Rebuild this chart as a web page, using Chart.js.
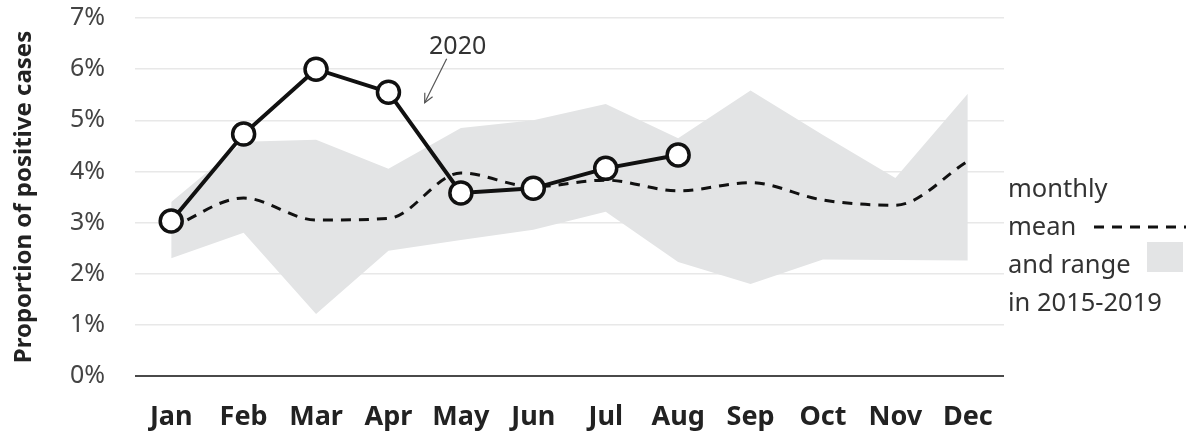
<!DOCTYPE html>
<html>
<head>
<meta charset="utf-8">
<script src="https://cdn.jsdelivr.net/npm/chart.js@4.4.0/dist/chart.umd.min.js"></script>
<style>
  html, body { margin: 0; padding: 0; background: #ffffff; }
  #wrap { width: 1187px; height: 434px; position: relative; }
</style>
</head>
<body>
<div id="wrap"><canvas id="c" width="1187" height="434"></canvas></div>
<script>
const months = ['Jan','Feb','Mar','Apr','May','Jun','Jul','Aug','Sep','Oct','Nov','Dec'];
const values2020 = [3.03, 4.73, 6.0, 5.55, 3.58, 3.67, 4.06, 4.32, null, null, null, null];
const meanValues = [2.9, 3.48, 3.05, 3.08, 3.97, 3.7, 3.83, 3.62, 3.78, 3.44, 3.34, 4.2];
const rangeMax = [3.4, 4.58, 4.62, 4.05, 4.85, 5.0, 5.32, 4.65, 5.58, 4.71, 3.87, 5.52];
const rangeMin = [2.3, 2.8, 1.21, 2.45, 2.66, 2.86, 3.21, 2.23, 1.8, 2.28, 2.27, 2.26];
const yTicks = [0, 1, 2, 3, 4, 5, 6, 7];
const legendLines = ['monthly', 'mean', 'and range', 'in 2015-2019'];
const annotationText = '2020';

const FONT = '"Noto Sans", "Open Sans", sans-serif';
const BAND = '#e3e4e5';

const extras = {
  id: 'extras',
  afterDraw(chart) {
    const ctx = chart.ctx;
    const x = chart.scales.x, y = chart.scales.y;
    ctx.save();
    // annotation
    ctx.fillStyle = '#333';
    ctx.font = '25px ' + FONT;
    ctx.textAlign = 'center';
    ctx.textBaseline = 'alphabetic';
    const ax = (x.getPixelForValue(3) + x.getPixelForValue(4)) / 2 + 33;
    const ay = y.getPixelForValue(6.3);
    ctx.fillText(annotationText, ax, ay);
    // arrow
    const x1 = ax - 11, y1 = ay + 5, x2 = ax - 33, y2 = ay + 49;
    ctx.strokeStyle = '#555';
    ctx.lineWidth = 1.2;
    ctx.beginPath(); ctx.moveTo(x1, y1); ctx.lineTo(x2, y2); ctx.stroke();
    const ang = Math.atan2(y2 - y1, x2 - x1);
    const hl = 10;
    ctx.beginPath();
    ctx.moveTo(x2 - hl * Math.cos(ang - 0.45), y2 - hl * Math.sin(ang - 0.45));
    ctx.lineTo(x2, y2);
    ctx.lineTo(x2 - hl * Math.cos(ang + 0.45), y2 - hl * Math.sin(ang + 0.45));
    ctx.stroke();
    // legend
    const lx = chart.chartArea.right + 4;
    ctx.textAlign = 'left';
    ctx.fillStyle = '#333';
    ctx.font = '25.5px ' + FONT;
    const base = [197, 235, 273, 311];
    legendLines.forEach((t, i) => ctx.fillText(t, lx, base[i]));
    // dashed sample
    ctx.strokeStyle = '#111';
    ctx.lineWidth = 3;
    ctx.setLineDash([10, 8]);
    ctx.beginPath(); ctx.moveTo(1094, 227); ctx.lineTo(1186, 227); ctx.stroke();
    ctx.setLineDash([]);
    // band sample
    ctx.fillStyle = BAND;
    ctx.fillRect(1147, 242, 36, 30);
    ctx.restore();
  }
};

new Chart(document.getElementById('c'), {
  type: 'line',
  data: {
    labels: months,
    datasets: [
      {
        label: '2020',
        data: values2020,
        borderColor: '#111',
        borderWidth: 4,
        pointRadius: 11,
        pointBorderWidth: 3.5,
        pointBackgroundColor: '#fff',
        pointBorderColor: '#111',
        fill: false,
        spanGaps: false,
        tension: 0
      },
      {
        label: 'mean',
        data: meanValues,
        borderColor: '#111',
        borderWidth: 3,
        borderDash: [10, 8],
        pointRadius: 0,
        fill: false,
        cubicInterpolationMode: 'monotone'
      },
      {
        label: 'max',
        data: rangeMax,
        borderWidth: 0,
        borderColor: 'rgba(0,0,0,0)',
        backgroundColor: BAND,
        pointRadius: 0,
        fill: 3,
        tension: 0
      },
      {
        label: 'min',
        data: rangeMin,
        borderWidth: 0,
        borderColor: 'rgba(0,0,0,0)',
        pointRadius: 0,
        fill: false,
        tension: 0
      }
    ]
  },
  options: {
    responsive: false,
    animation: false,
    events: [],
    layout: { padding: { left: 0, right: 183, top: 18, bottom: 0 } },
    plugins: { legend: { display: false }, tooltip: { enabled: false } },
    scales: {
      x: {
        type: 'category',
        offset: true,
        grid: { display: false, drawTicks: false },
        border: { display: false },
        ticks: { color: '#222', font: { family: FONT, size: 27, weight: 'bold' }, padding: 25, maxRotation: 0, autoSkip: false },
        afterFit(s) { s.height = 58; }
      },
      y: {
        min: 0, max: 7,
        afterBuildTicks(s) { s.ticks = yTicks.map(v => ({ value: v })); },
        grid: {
          drawTicks: true,
          tickLength: 30,
          tickColor: 'rgba(0,0,0,0)',
          color: c => (c.tick && c.tick.value === 0) ? '#4a4a4a' : '#e8e8e8',
          lineWidth: c => (c.tick && c.tick.value === 0) ? 2 : 1.5
        },
        border: { display: false },
        ticks: { color: '#444', font: { family: FONT, size: 25 }, padding: 0, callback: v => v + '%' },
        title: { display: true, text: 'Proportion of positive cases', color: '#222', font: { family: FONT, size: 24, weight: 'bold' }, padding: { top: 10, bottom: 0 } },
        afterFit(s) { s.width = 135; }
      }
    }
  },
  plugins: [extras]
});
</script>
</body>
</html>
